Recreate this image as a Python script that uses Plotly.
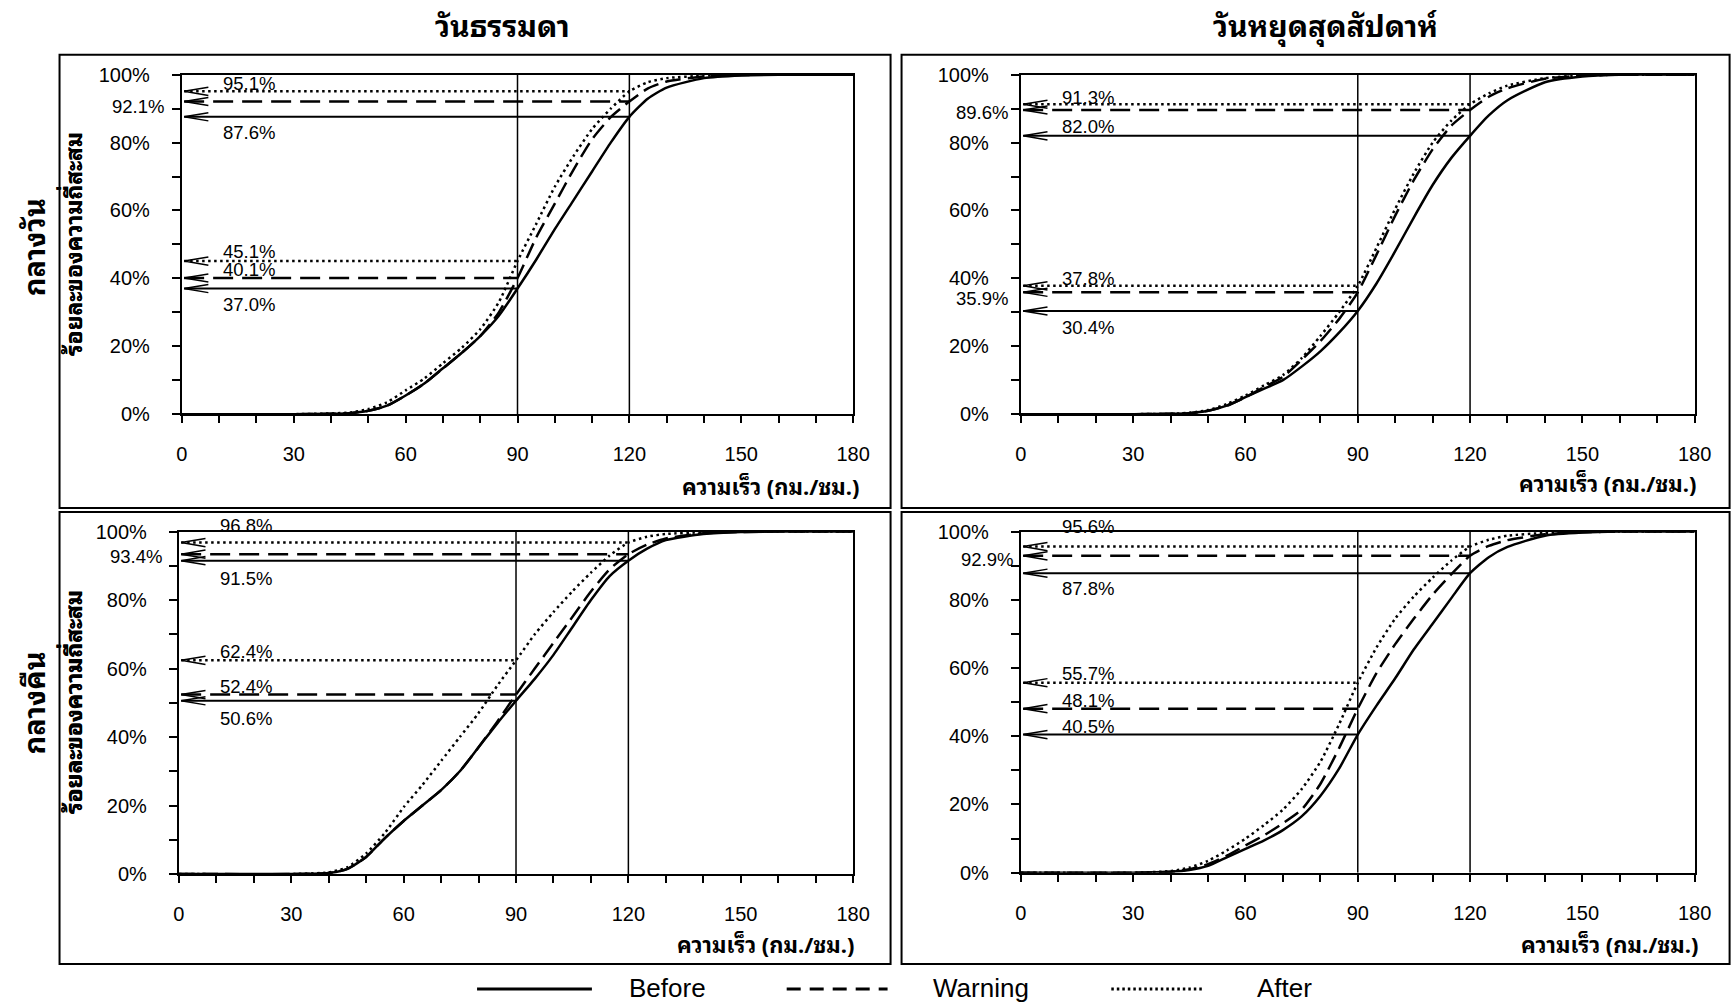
import plotly.graph_objects as go

# Figure canvas in pixels; positions below are given on a 1733x1004 design grid
# and mapped onto the canvas with fx / fy.
W, H = 1749, 1017
GRID_SCALE = (0.988, 0.978)
GRID_OFFSET = (5.4, 10.3)

# ---------------------------------------------------------------- data
SPEED = [0, 30, 40, 45, 50, 55, 60, 65, 70, 75, 80, 85, 90, 95, 100,
         105, 110, 115, 120, 125, 130, 140, 150, 160, 180]

SERIES = ["Before", "Warning", "After"]
THRESHOLDS = [90, 120]

COLUMN_TITLES = ["วันธรรมดา", "วันหยุดสุดสัปดาห์"]
ROW_TITLES = ["กลางวัน", "กลางคืน"]
Y_TITLE = "ร้อยละของความถี่สะสม"
X_TITLE = "ความเร็ว (กม./ชม.)"

# weekday, daytime (cumulative %)
WD_DAY_BEFORE = [0, 0, 0.1, 0.3, 1.0, 2.5, 5.5, 9.0, 13.5, 18.0, 23.0, 29.0, 37.0, 45.5, 54.5,
                 63.0, 71.5, 80.0, 87.6, 93.0, 96.2, 99.0, 99.8, 100, 100]
WD_DAY_WARNING = [0, 0, 0.1, 0.3, 1.0, 2.5, 5.5, 9.0, 13.5, 18.0, 23.0, 30.0, 40.1, 52.0, 62.0,
                  72.0, 81.0, 87.5, 92.1, 96.0, 98.0, 99.5, 99.9, 100, 100]
WD_DAY_AFTER = [0, 0, 0.2, 0.5, 1.5, 3.5, 7.0, 10.5, 15.0, 19.5, 25.0, 33.0, 45.1, 56.0, 67.0,
                76.0, 84.0, 90.0, 95.1, 97.8, 99.0, 99.7, 100, 100, 100]

# weekend, daytime
WE_DAY_BEFORE = [0, 0, 0.1, 0.3, 1.0, 2.5, 5.0, 7.5, 10.0, 14.0, 18.5, 24.0, 30.4, 38.5, 48.0,
                 58.0, 67.5, 75.5, 82.0, 88.0, 92.5, 97.8, 99.5, 100, 100]
WE_DAY_WARNING = [0, 0, 0.1, 0.3, 1.0, 2.5, 5.0, 8.0, 11.0, 16.0, 21.5, 28.0, 35.9, 47.0, 58.5,
                  69.0, 78.0, 85.0, 89.6, 93.5, 96.0, 98.8, 99.7, 100, 100]
WE_DAY_AFTER = [0, 0, 0.1, 0.4, 1.2, 3.0, 5.5, 8.5, 11.5, 16.5, 23.0, 30.0, 37.8, 49.0, 60.5,
                71.0, 80.0, 86.5, 91.3, 94.5, 96.8, 99.0, 99.8, 100, 100]

# weekday, night
WD_NIGHT_BEFORE = [0, 0, 0.3, 1.5, 5.0, 10.5, 15.5, 20.0, 24.5, 30.0, 37.0, 44.0, 50.6, 57.0, 64.0,
                   72.0, 80.0, 87.0, 91.5, 95.0, 97.5, 99.3, 99.9, 100, 100]
WD_NIGHT_WARNING = [0, 0, 0.3, 1.5, 5.0, 10.5, 15.5, 20.0, 24.5, 30.0, 37.0, 44.5, 52.4, 60.0, 67.5,
                    75.0, 82.5, 89.0, 93.4, 96.2, 98.0, 99.5, 99.9, 100, 100]
WD_NIGHT_AFTER = [0, 0, 0.5, 2.0, 6.0, 12.0, 19.5, 26.0, 33.0, 40.0, 47.0, 55.0, 62.4, 70.0, 76.5,
                  82.5, 88.0, 93.0, 96.8, 98.5, 99.3, 99.8, 100, 100, 100]

# weekend, night
WE_NIGHT_BEFORE = [0, 0, 0.3, 0.8, 2.0, 4.5, 7.0, 9.5, 12.5, 16.5, 22.5, 30.5, 40.5, 49.0, 57.0,
                   65.5, 73.0, 80.5, 87.8, 92.5, 95.5, 98.8, 99.7, 100, 100]
WE_NIGHT_WARNING = [0, 0, 0.3, 1.0, 2.5, 5.0, 8.0, 11.0, 14.5, 18.5, 26.0, 36.5, 48.1, 58.5, 67.0,
                    74.5, 81.5, 87.5, 92.9, 95.8, 97.5, 99.2, 99.8, 100, 100]
WE_NIGHT_AFTER = [0, 0, 0.5, 1.5, 3.5, 6.5, 10.0, 14.0, 18.5, 24.5, 32.5, 43.5, 55.7, 66.0, 74.5,
                  81.0, 86.5, 91.5, 95.6, 97.6, 98.8, 99.6, 100, 100, 100]

# ---------------------------------------------------------------- styling
NUM_FONT = "Liberation Sans, Arial, sans-serif"
THAI_FONT = "Noto Sans Thai Looped, Noto Sans Thai, Loma, Garuda, Noto Sans, sans-serif"

CURVE_STYLE = {
    "Before": dict(color="black", width=2.5, dash="solid"),
    "Warning": dict(color="black", width=2.5, dash="16px,7px"),
    "After": dict(color="black", width=2.5, dash="2.5px,3.5px"),
}
GUIDE_STYLE = {
    "Before": dict(color="black", width=2, dash="solid"),
    "Warning": dict(color="black", width=2.5, dash="20px,9px"),
    "After": dict(color="black", width=2.5, dash="2.5px,3.5px"),
}

ARROW_TIP = 0.6      # speed units
ARROW_LEN = 6.5      # speed units
ARROW_HALF = 1.2     # percent
LABEL_X = 18         # speed units

# grid-pixel layout of each panel: frame box and plotting area (left, top, right, bottom)
PANELS = [
    dict(curves=[WD_DAY_BEFORE, WD_DAY_WARNING, WD_DAY_AFTER],
         box=(59, 54, 891, 507), plot=(181.5, 74, 853.5, 413.3), xtitle=(861, 484), left_gap=16,
         labels={(2, 120): ("above", 8), (1, 120): ("left", -5), (0, 120): ("below", -15),
                 (2, 90): ("above", 9), (1, 90): ("above", 8), (0, 90): ("below", -16)}),
    dict(curves=[WE_DAY_BEFORE, WE_DAY_WARNING, WE_DAY_AFTER],
         box=(902, 54, 1731, 507), plot=(1021.5, 74, 1696, 413.3), xtitle=(1699, 481), left_gap=11,
         labels={(2, 120): ("above", 7), (1, 120): ("left", -2), (0, 120): ("above", 9),
                 (2, 90): ("above", 7), (1, 90): ("left", -6), (0, 90): ("below", -16)}),
    dict(curves=[WD_NIGHT_BEFORE, WD_NIGHT_WARNING, WD_NIGHT_AFTER],
         box=(59, 511, 891, 963), plot=(178.5, 530.7, 853.5, 873), xtitle=(856, 942), left_gap=15,
         labels={(2, 120): ("above", 17), (1, 120): ("left", -2), (0, 120): ("below", -17),
                 (2, 90): ("above", 9), (1, 90): ("above", 8), (0, 90): ("below", -17)}),
    dict(curves=[WE_NIGHT_BEFORE, WE_NIGHT_WARNING, WE_NIGHT_AFTER],
         box=(902, 511, 1731, 963), plot=(1021.5, 530.7, 1696, 871.7), xtitle=(1701, 942), left_gap=6,
         labels={(2, 120): ("above", 20), (1, 120): ("left", -4), (0, 120): ("below", -15),
                 (2, 90): ("above", 9), (1, 90): ("above", 8), (0, 90): ("above", 8)}),
]


def fx(gx):
    """grid x pixel -> paper fraction"""
    return (gx - GRID_OFFSET[0]) / GRID_SCALE[0] / W


def fy(gy):
    """grid y pixel (from top) -> paper fraction"""
    return 1 - (gy - GRID_OFFSET[1]) / GRID_SCALE[1] / H


def px(v):
    """grid length -> canvas length"""
    return v / GRID_SCALE[1]


fig = go.Figure()
layout = dict(
    width=W, height=H, margin=dict(l=0, r=0, t=0, b=0),
    paper_bgcolor="white", plot_bgcolor="white", showlegend=False,
    shapes=[], annotations=[],
)

for i, p in enumerate(PANELS):
    n = i + 1
    xa = "x" if n == 1 else f"x{n}"
    ya = "y" if n == 1 else f"y{n}"
    l, t, r, b = p["plot"]

    layout[f"xaxis{'' if n == 1 else n}"] = dict(
        domain=[fx(l), fx(r)], anchor=ya, range=[0, 180],
        tick0=0, dtick=30, ticks="outside", ticklen=7, tickwidth=1.5, tickcolor="black",
        minor=dict(tick0=0, dtick=10, ticks="outside", ticklen=7, tickwidth=1.5, tickcolor="black"),
        showline=True, linewidth=2, linecolor="black", mirror=True,
        showgrid=False, zeroline=False, ticklabelstandoff=14,
        tickfont=dict(family=NUM_FONT, size=20, color="black"),
    )
    layout[f"yaxis{'' if n == 1 else n}"] = dict(
        domain=[fy(b), fy(t)], anchor=xa, range=[0, 100],
        tick0=0, dtick=20, ticksuffix="%", ticks="outside", ticklen=8, tickwidth=1.5, tickcolor="black",
        minor=dict(tick0=0, dtick=10, ticks="outside", ticklen=8, tickwidth=1.5, tickcolor="black"),
        showline=True, linewidth=2, linecolor="black", mirror=True,
        showgrid=False, zeroline=False, ticklabelstandoff=18,
        tickfont=dict(family=NUM_FONT, size=20, color="black"),
    )

    # threshold speed lines
    for th in THRESHOLDS:
        layout["shapes"].append(dict(type="line", xref=xa, yref=ya, x0=th, x1=th, y0=0, y1=100,
                                     line=dict(color="black", width=1.5)))

    # cumulative curves
    for s, name in enumerate(SERIES):
        fig.add_trace(go.Scatter(
            x=SPEED, y=p["curves"][s], mode="lines", name=name, xaxis=xa, yaxis=ya,
            line=dict(shape="spline", smoothing=0.6, **CURVE_STYLE[name]),
            hoverinfo="skip", cliponaxis=True,
        ))

    # guide lines from each curve back to the percentage axis, with arrow heads
    ax_x, ax_y = [], []
    for s, name in enumerate(SERIES):
        gx, gy = [], []
        for th in THRESHOLDS:
            v = p["curves"][s][SPEED.index(th)]
            gx += [ARROW_TIP, th, None]
            gy += [v, v, None]
            ax_x += [ARROW_TIP + ARROW_LEN, ARROW_TIP, ARROW_TIP + ARROW_LEN, None]
            ax_y += [v + ARROW_HALF, v, v - ARROW_HALF, None]

            kind, dy = p["labels"][(s, th)]
            ann = dict(xref=xa, yref=ya, y=v, text=f"{v:.1f}%", showarrow=False,
                       yanchor="middle", yshift=px(dy),
                       font=dict(family=NUM_FONT, size=18.5, color="black"))
            if kind == "left":
                ann.update(x=0, xanchor="right", xshift=-px(p["left_gap"]))
            else:
                ann.update(x=LABEL_X, xanchor="center")
            layout["annotations"].append(ann)
        fig.add_trace(go.Scatter(x=gx, y=gy, mode="lines", xaxis=xa, yaxis=ya,
                                 line=GUIDE_STYLE[name], hoverinfo="skip"))
    fig.add_trace(go.Scatter(x=ax_x, y=ax_y, mode="lines", xaxis=xa, yaxis=ya,
                             line=dict(color="black", width=1.5), hoverinfo="skip"))

    # frame around the panel
    bl, bt, br, bb = p["box"]
    layout["shapes"].append(dict(type="rect", xref="paper", yref="paper",
                                 x0=fx(bl), x1=fx(br), y0=fy(bb), y1=fy(bt),
                                 line=dict(color="black", width=2)))

    # axis titles
    layout["annotations"].append(dict(
        xref="paper", yref="paper", x=fx(71), y=fy((t + b) / 2), text=f"<b>{Y_TITLE}</b>",
        textangle=-90, showarrow=False, xanchor="center", yanchor="middle",
        font=dict(family=THAI_FONT, size=23, color="black")))
    tx, ty = p["xtitle"]
    layout["annotations"].append(dict(
        xref="paper", yref="paper", x=fx(tx), y=fy(ty), text=f"<b>{X_TITLE}</b>",
        showarrow=False, xanchor="right", yanchor="middle",
        font=dict(family=THAI_FONT, size=22, color="black")))

# column and row headings
for title, cx in zip(COLUMN_TITLES, [502, 1326]):
    layout["annotations"].append(dict(
        xref="paper", yref="paper", x=fx(cx), y=fy(23), text=f"<b>{title}</b>",
        showarrow=False, xanchor="center", yanchor="middle",
        font=dict(family=THAI_FONT, size=30, color="black")))
for title, cy in zip(ROW_TITLES, [247, 702]):
    layout["annotations"].append(dict(
        xref="paper", yref="paper", x=fx(31), y=fy(cy), text=f"<b>{title}</b>",
        textangle=-90, showarrow=False, xanchor="center", yanchor="middle",
        font=dict(family=THAI_FONT, size=29, color="black")))

# legend row
LEGEND_ITEMS = [(477, 592, 627), (787, 888, 931), (1112, 1205, 1256)]
LEGEND_DASH = {"Before": "solid", "Warning": "14px,9px", "After": "2.5px,3px"}
for name, (x0, x1, xt) in zip(SERIES, LEGEND_ITEMS):
    layout["shapes"].append(dict(type="line", xref="paper", yref="paper",
                                 x0=fx(x0), x1=fx(x1), y0=fy(988), y1=fy(988),
                                 line=dict(color="black", width=3, dash=LEGEND_DASH[name])))
    layout["annotations"].append(dict(
        xref="paper", yref="paper", x=fx(xt), y=fy(987), text=name, showarrow=False,
        xanchor="left", yanchor="middle", font=dict(family=NUM_FONT, size=26, color="black")))

fig.update_layout(**layout)
fig.write_html("out.html")
